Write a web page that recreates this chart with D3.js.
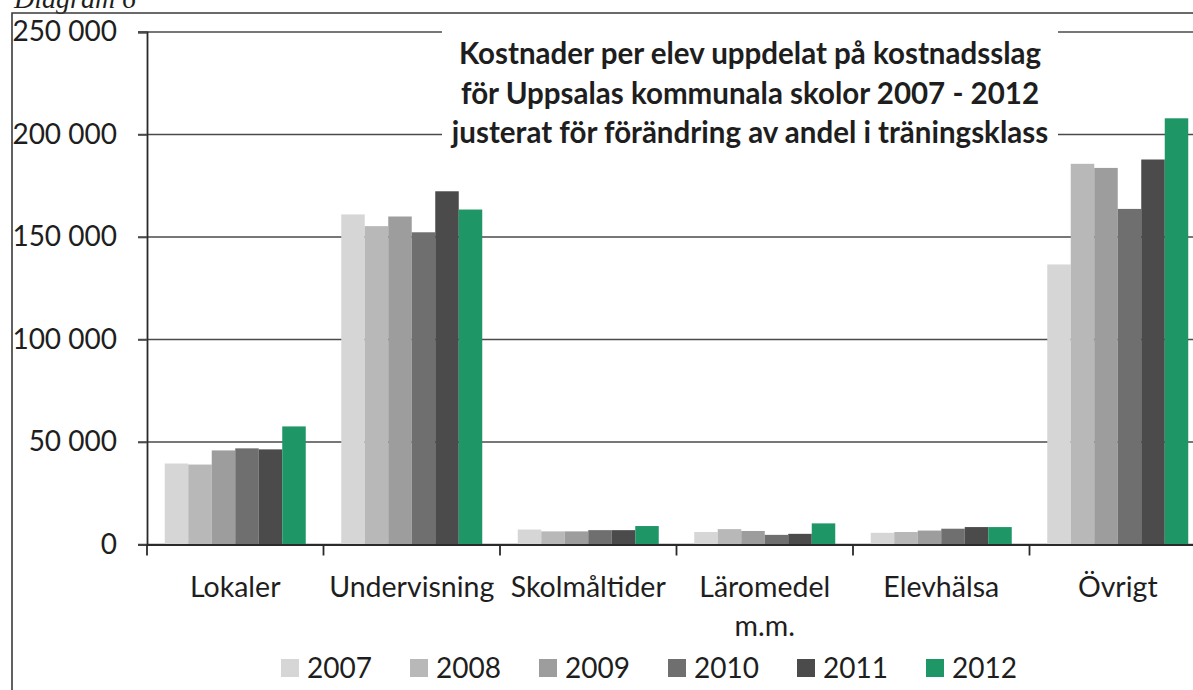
<!DOCTYPE html>
<html>
<head>
<meta charset="utf-8">
<script src="https://cdn.jsdelivr.net/npm/d3@7"></script>
<style>
    body { margin: 0; background: #fff; }
    svg { display: block; }
    text { font-family: Lato, "Open Sans", sans-serif; fill: #1e1e1e; }
</style>
</head>
<body>
<div id="chart"></div>
<script>
// Categories (x axis) and series (one per year)
const categories = ["Lokaler", "Undervisning", "Skolmåltider", "Läromedel m.m.", "Elevhälsa", "Övrigt"];
const years = ["2007", "2008", "2009", "2010", "2011", "2012"];

const values2007 = [39500, 161000, 7300, 6100, 5700, 136600];
const values2008 = [39000, 155300, 6400, 7500, 6100, 185700];
const values2009 = [45900, 160000, 6400, 6600, 6800, 183700];
const values2010 = [46900, 152300, 7000, 4700, 7700, 163700];
const values2011 = [46400, 172300, 7000, 5200, 8500, 187800];
const values2012 = [57600, 163400, 9000, 10300, 8500, 207900];

const yTicks = [0, 50000, 100000, 150000, 200000, 250000];

const titleLines = [
    "Kostnader per elev uppdelat på kostnadsslag",
    "för Uppsalas kommunala skolor 2007 - 2012",
    "justerat för förändring av andel i träningsklass"
];

const series = [values2007, values2008, values2009, values2010, values2011, values2012];
const colors = ["#d6d6d6", "#b8b8b8", "#9d9d9d", "#6f6f6f", "#4b4b4b", "#1f9665"];

const W = 1193, H = 690;
const plot = {left: 147, right: 1206, top: 32, bottom: 544.5};

const svg = d3.select("#chart").append("svg")
    .attr("width", W)
    .attr("height", H);

// Swedish style thousands separator
const fmt = d3.formatLocale({decimal: ",", thousands: " ", grouping: [3], currency: ["", " kr"]}).format(",");

const x0 = d3.scaleBand().domain(categories).range([plot.left, plot.right]).padding(0);
const groupW = 141;
const x1 = d3.scaleBand().domain(years).range([0, groupW]).padding(0);
const y = d3.scaleLinear().domain([0, 250000]).range([plot.bottom, plot.top]);

// "Diagram 6" caption, cut at top of the scan
svg.append("text")
    .attr("x", 14)
    .attr("y", 8)
    .style("font-family", "'Liberation Serif', 'DejaVu Serif', serif")
    .style("font-style", "italic")
    .style("font-size", "28px")
    .text("Diagram 6");

// outer frame
svg.append("path")
    .attr("d", `M12,${H} L12,13 L${W},13`)
    .attr("fill", "none")
    .attr("stroke", "#3a3a3a")
    .attr("stroke-width", 1.6);

// gridlines
svg.append("g")
    .selectAll("line")
    .data(yTicks)
    .join("line")
    .attr("x1", plot.left - 9)
    .attr("x2", W)
    .attr("y1", d => y(d))
    .attr("y2", d => y(d))
    .attr("stroke", "#4a4a4a")
    .attr("stroke-width", 1.6);

// title box hides gridlines behind the title
svg.append("rect")
    .attr("x", 442)
    .attr("y", 20)
    .attr("width", 616)
    .attr("height", 128)
    .attr("fill", "#fff");

svg.append("g")
    .selectAll("text")
    .data(titleLines)
    .join("text")
    .attr("x", 750)
    .attr("y", (d, i) => 64 + i * 39.5)
    .attr("text-anchor", "middle")
    .style("font-weight", "bold")
    .style("font-size", "29.5px")
    .text(d => d);

// bars
const groups = svg.append("g")
    .selectAll("g")
    .data(series)
    .join("g")
    .attr("fill", (d, i) => colors[i]);

groups.selectAll("rect")
    .data((vals, i) => vals.map((v, j) => ({year: years[i], cat: categories[j], value: v})))
    .join("rect")
    .attr("x", d => x0(d.cat) + (x0.bandwidth() - groupW) / 2 + x1(d.year))
    .attr("width", x1.bandwidth())
    .attr("y", d => y(d.value))
    .attr("height", d => y(0) - y(d.value));

// y axis
const yAxis = svg.append("g")
    .attr("transform", `translate(${plot.left},0)`)
    .call(d3.axisLeft(y).tickValues(yTicks).tickFormat(fmt).tickSize(9).tickPadding(21));
yAxis.select(".domain").attr("stroke", "#2a2a2a").attr("stroke-width", 1.8);
yAxis.selectAll(".tick line").attr("stroke", "#4a4a4a").attr("stroke-width", 1.6);
yAxis.selectAll(".tick text")
    .style("font-family", "Lato, sans-serif")
    .style("font-size", "28px")
    .attr("fill", "#1e1e1e");

// x axis
const xAxis = svg.append("g")
    .attr("transform", `translate(0,${plot.bottom})`)
    .call(d3.axisBottom(x0).tickSize(0).tickPadding(0).tickFormat(""));
xAxis.select(".domain").attr("stroke", "#2a2a2a").attr("stroke-width", 1.8);

// category boundary ticks
svg.append("g")
    .selectAll("line")
    .data(categories)
    .join("line")
    .attr("x1", d => x0(d))
    .attr("x2", d => x0(d))
    .attr("y1", plot.bottom)
    .attr("y2", plot.bottom + 11)
    .attr("stroke", "#2a2a2a")
    .attr("stroke-width", 1.8);

// category labels, wrapped when wider than the band
const labels = svg.append("g")
    .selectAll("text")
    .data(categories)
    .join("text")
    .attr("x", d => x0(d) + x0.bandwidth() / 2)
    .attr("y", 597)
    .attr("text-anchor", "middle")
    .style("font-size", "28.5px");

labels.each(function(d) {
    const t = d3.select(this);
    t.text(d);
    if (this.getComputedTextLength() > x0.bandwidth() - 2) {
        t.text(null);
        d.split(" ").forEach((w, i) => {
            t.append("tspan")
                .attr("x", x0(d) + x0.bandwidth() / 2)
                .attr("dy", i === 0 ? 0 : 39)
                .text(w);
        });
    }
});

// legend
const legend = svg.append("g")
    .selectAll("g")
    .data(years)
    .join("g")
    .attr("transform", (d, i) => `translate(${281 + i * 129},668)`);

legend.append("rect")
    .attr("x", 0)
    .attr("y", -9)
    .attr("width", 18)
    .attr("height", 18)
    .attr("fill", (d, i) => colors[i]);

legend.append("text")
    .attr("x", 26)
    .attr("y", 10)
    .style("font-size", "28px")
    .text(d => d);
</script>
</body>
</html>
